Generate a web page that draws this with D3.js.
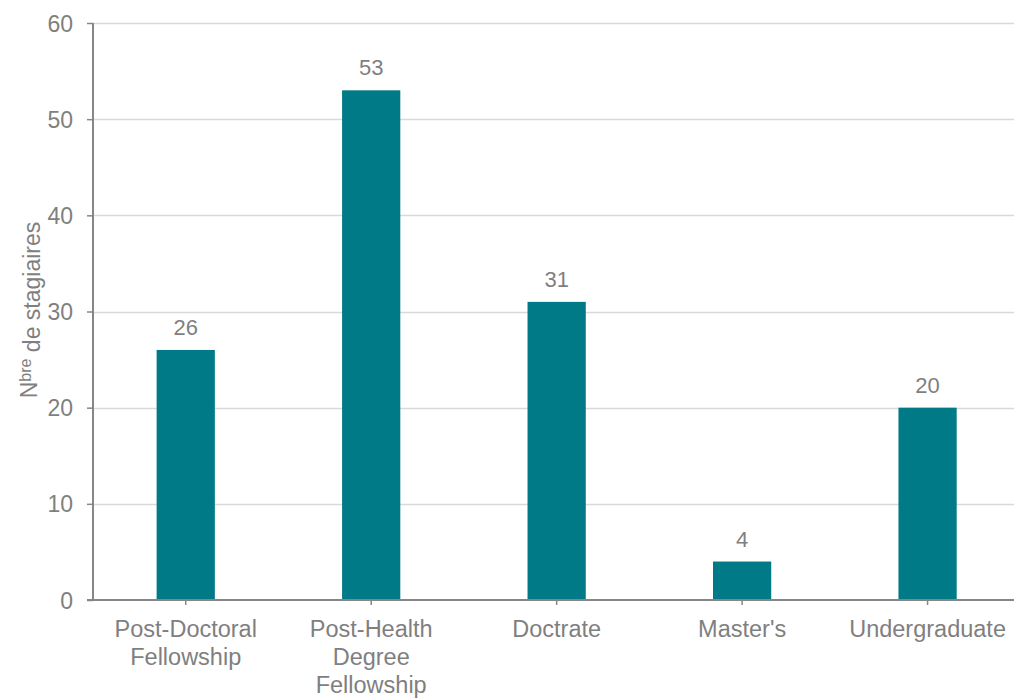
<!DOCTYPE html>
<html>
<head>
<meta charset="utf-8">
<script src="https://cdn.jsdelivr.net/npm/d3@7"></script>
<style>
  body { margin: 0; background: #fff; }
  text { font-family: "Liberation Sans", Arial, sans-serif; fill: #7f7f7f; }
</style>
</head>
<body>
<svg id="chart" width="1014" height="698"></svg>
<script>
const categories = [ "Post-Doctoral Fellowship", "Post-Health Degree Fellowship", "Doctrate", "Master's", "Undergraduate" ];
const categoryLines = [ [ "Post-Doctoral", "Fellowship" ], [ "Post-Health", "Degree", "Fellowship" ], [ "Doctrate" ], [ "Master's" ], [ "Undergraduate" ] ];
const values = [ 26, 53, 31, 4, 20 ];
const yTicks = [ 0, 10, 20, 30, 40, 50, 60 ];

const WIDTH = 1014;
const HEIGHT = 698;
const MARGINS = { top: 23, right: 0, bottom: 98, left: 93 };

const svg = d3.select( "#chart" );

const x = d3.scaleBand()
  .domain( categories )
  .range( [ MARGINS.left, 1020.3 ] )
  .paddingInner( 0.686 )
  .paddingOuter( 0.343 );

const y = d3.scaleLinear()
  .domain( [ 0, 60 ] )
  .range( [ HEIGHT - MARGINS.bottom, MARGINS.top ] );

// gridlines
svg.append( "g" )
  .selectAll( "line" )
  .data( yTicks.filter( d => d > 0 ) )
  .enter()
  .append( "line" )
  .attr( "x1", MARGINS.left )
  .attr( "x2", 1020.3 )
  .attr( "y1", d => Math.round( y( d ) ) + 0.5 )
  .attr( "y2", d => Math.round( y( d ) ) + 0.5 )
  .attr( "stroke", "#d9d9d9" )
  .attr( "stroke-width", 1.5 );

// bars
svg.append( "g" )
  .selectAll( "rect" )
  .data( values )
  .enter()
  .append( "rect" )
  .attr( "x", ( d, i ) => x( categories[i] ) )
  .attr( "y", d => y( d ) )
  .attr( "width", x.bandwidth() )
  .attr( "height", d => y( 0 ) - y( d ) )
  .attr( "fill", "#007a87" );

// value labels
svg.append( "g" )
  .selectAll( "text" )
  .data( values )
  .enter()
  .append( "text" )
  .attr( "x", ( d, i ) => x( categories[i] ) + x.bandwidth() / 2 )
  .attr( "y", d => y( d ) - 15 )
  .attr( "text-anchor", "middle" )
  .style( "font-size", "22px" )
  .text( d => d );

// y axis
const yAxis = d3.axisLeft( y ).tickValues( yTicks ).tickSize( 6 ).tickPadding( 14 );
const yG = svg.append( "g" )
  .attr( "transform", `translate(${MARGINS.left},0)` )
  .call( yAxis );
yG.select( ".domain" ).attr( "stroke", "#868686" ).attr( "stroke-width", 2 ).attr( "d", `M0,${y( 60 )}V${y( 0 )}` );
yG.selectAll( ".tick line" ).attr( "stroke", "#868686" ).attr( "stroke-width", 1.5 );
yG.selectAll( ".tick text" ).style( "font-size", "23px" ).attr( "fill", "#7f7f7f" ).attr( "dy", "0.35em" );

// x axis
const xAxis = d3.axisBottom( x ).tickSize( 5 ).tickFormat( "" );
const xG = svg.append( "g" )
  .attr( "transform", `translate(0,${y( 0 )})` )
  .call( xAxis );
xG.select( ".domain" ).attr( "stroke", "#868686" ).attr( "stroke-width", 2 ).attr( "d", `M87,0H1020.3` );
xG.selectAll( ".tick line" ).attr( "stroke", "#868686" ).attr( "stroke-width", 1.5 );

// category labels, wrapped
xG.selectAll( ".tick" )
  .append( "text" )
  .attr( "text-anchor", "middle" )
  .style( "font-size", "23.5px" )
  .attr( "fill", "#7f7f7f" )
  .each( function( d, i ) {
    const t = d3.select( this );
    categoryLines[i].forEach( ( line, j ) => {
      t.append( "tspan" ).attr( "x", 0 ).attr( "y", 37 + j * 28 ).text( line );
    } );
  } );

// y axis title
const yTitle = svg.append( "text" )
  .attr( "transform", "translate(37,310) rotate(-90)" )
  .attr( "text-anchor", "middle" )
  .style( "font-size", "23px" );
yTitle.append( "tspan" ).text( "N" );
yTitle.append( "tspan" ).attr( "dy", "-0.4em" ).style( "font-size", "16px" ).text( "bre" );
yTitle.append( "tspan" ).attr( "dy", "0.4em" ).text( " de stagiaires" );
</script>
</body>
</html>
